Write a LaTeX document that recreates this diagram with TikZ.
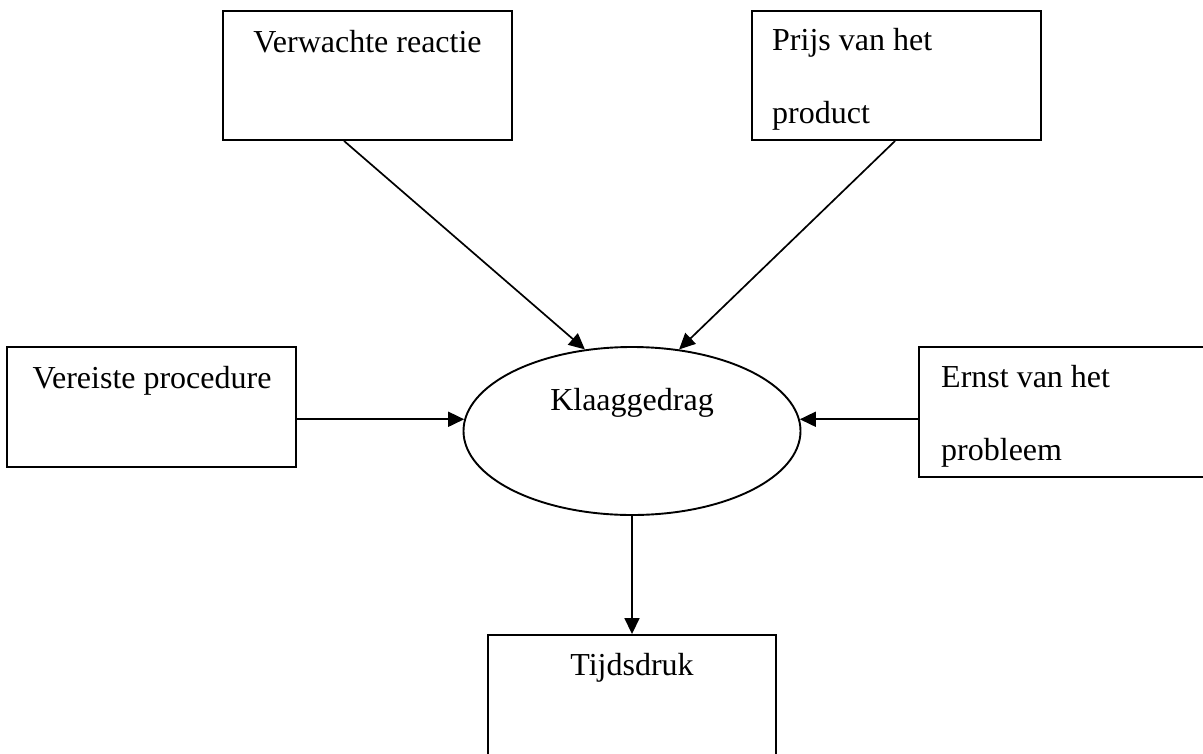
\documentclass[tikz,border=0pt]{standalone}
\usepackage{fontspec}
\setmainfont{Liberation Serif}
\usetikzlibrary{shapes.geometric,arrows.meta}
\begin{document}
\begin{tikzpicture}[x=1pt,y=-1pt,
  box/.style={draw,line width=1.9pt,rectangle,inner sep=0pt},
  txt/.style={anchor=base,inner sep=0pt,font=\fontsize{32}{32}\selectfont},
  ltxt/.style={anchor=base west,inner sep=0pt,font=\fontsize{32}{32}\selectfont},
  link/.style={line width=1.7pt,-{Triangle[length=16pt,width=15pt]}}]
\useasboundingbox (0,0) rectangle (1203,753);
\fill[white] (0,0) rectangle (1203,753);
% boxes, corner to corner
\node[box] (b1) at (367.5,75.5) [minimum width=289pt,minimum height=129pt] {};
\node[box] (b2) at (896.5,75.5) [minimum width=289pt,minimum height=129pt] {};
\node[box] (b3) at (151.5,407) [minimum width=289pt,minimum height=120pt] {};
\node[box] (b4) at (1066,412) [minimum width=294pt,minimum height=130pt] {};
\node[box] (b5) at (632,712) [minimum width=288pt,minimum height=154pt] {};
\node[draw,line width=1.9pt,ellipse,inner sep=0pt,minimum width=337pt,minimum height=168pt] (ell) at (632,431) {};
% texts
\node[txt] (t1) at (367.5,52) {Verwachte reactie};
\node[ltxt] (t2a) at (772,50) {Prijs van het};
\node[ltxt] (t2b) at (772,123) {product};
\node[txt] (t3) at (152,388) {Vereiste procedure};
\node[ltxt] (t4a) at (941,387) {Ernst van het};
\node[ltxt] (t4b) at (941,460) {probleem};
\node[txt] (te) at (632,410) {Klaaggedrag};
\node[txt] (t5) at (632,675) {Tijdsdruk};
% connectors
\draw[link] ([xshift=122pt]b1.south west) -- (ell.120);
\draw[link] ([xshift=144pt]b2.south west) -- (ell.60);
\draw[link] (b3.east |- ell.176) -- (ell.176);
\draw[link] (b4.west |- ell.4) -- (ell.4);
\draw[link] (ell.south) -- (b5.north);
\end{tikzpicture}
\end{document}
